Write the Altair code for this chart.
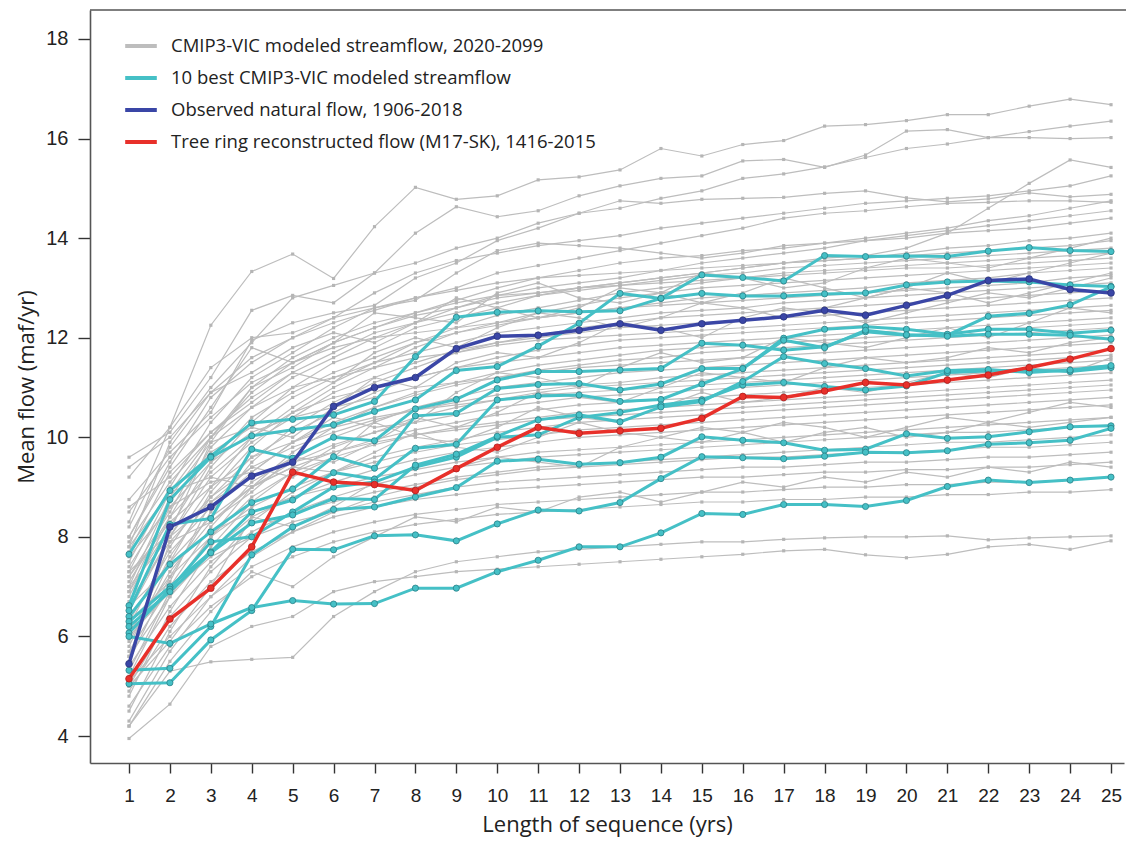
import altair as alt
import pandas as pd

# ---------------- data ----------------
SEQ_LENGTH = list(range(1, 26))

OBSERVED = [5.45, 8.2, 8.6, 9.22, 9.5, 10.62, 11.0, 11.2, 11.78, 12.03, 12.05, 12.15, 12.28,
            12.15, 12.28, 12.35, 12.42, 12.55, 12.45, 12.65, 12.85, 13.15, 13.18, 12.97, 12.9]

TREE_RING = [5.15, 6.35, 6.97, 7.8, 9.3, 9.1, 9.05, 8.93, 9.37, 9.8, 10.2, 10.08, 10.13,
             10.18, 10.38, 10.82, 10.8, 10.93, 11.1, 11.05, 11.15, 11.25, 11.4, 11.57, 11.78]

BEST_MODELS = [
    [7.65, 8.93, 9.62, 10.29, 10.36, 10.45, 10.72, 11.62, 12.41, 12.51, 12.54, 12.52, 12.54,
     12.79, 13.26, 13.21, 13.14, 13.65, 13.63, 13.64, 13.63, 13.74, 13.81, 13.75, 13.73],
    [6.62, 8.75, 9.60, 10.03, 10.15, 10.25, 10.52, 10.75, 11.34, 11.42, 11.83, 12.29, 12.89,
     12.79, 12.89, 12.84, 12.84, 12.88, 12.90, 13.06, 13.12, 13.14, 13.12, 13.06, 13.03],
    [6.52, 8.25, 8.37, 9.76, 9.58, 10.0, 9.93, 10.57, 10.76, 11.15, 11.32, 11.32, 11.35,
     11.38, 11.89, 11.85, 11.75, 11.82, 12.12, 12.05, 12.05, 12.43, 12.49, 12.66, 13.02],
    [6.40, 7.45, 8.1, 8.69, 8.96, 9.61, 9.38, 10.43, 10.48, 10.98, 11.06, 11.08, 10.95,
     11.07, 11.38, 11.38, 11.99, 12.17, 12.22, 12.17, 12.07, 12.17, 12.17, 12.09, 12.15],
    [6.30, 7.0, 7.70, 8.50, 8.74, 9.29, 9.16, 9.78, 9.86, 10.75, 10.83, 10.85, 10.72,
     10.76, 11.07, 11.38, 11.95, 11.80, 12.15, 12.06, 12.03, 12.07, 12.07, 12.05, 11.97],
    [6.07, 6.95, 7.9, 8.0, 8.5, 9.0, 9.1, 9.4, 9.6, 10.0, 10.05, 10.4, 10.5,
     10.65, 10.75, 11.05, 11.10, 11.02, 10.95, 11.03, 11.30, 11.33, 11.35, 11.32, 11.40],
    [6.20, 6.9, 7.68, 8.28, 8.44, 8.77, 8.75, 9.44, 9.66, 10.02, 10.35, 10.45, 10.31,
     10.61, 10.72, 11.12, 11.62, 11.48, 11.38, 11.23, 11.34, 11.36, 11.30, 11.35, 11.44],
    [5.32, 5.36, 6.20, 7.64, 8.20, 8.55, 8.6, 8.8, 8.99, 9.52, 9.56, 9.46, 9.49,
     9.60, 10.01, 9.94, 9.89, 9.74, 9.76, 10.07, 9.98, 10.01, 10.11, 10.21, 10.23],
    [5.05, 5.07, 5.93, 6.52, 7.75, 7.74, 8.02, 8.04, 7.92, 8.26, 8.54, 8.52, 8.69,
     9.17, 9.61, 9.59, 9.57, 9.62, 9.70, 9.69, 9.73, 9.86, 9.89, 9.94, 10.18],
    [6.0, 5.86, 6.25, 6.58, 6.72, 6.65, 6.66, 6.97, 6.97, 7.30, 7.53, 7.80, 7.80,
     8.08, 8.47, 8.45, 8.65, 8.65, 8.61, 8.73, 9.01, 9.14, 9.09, 9.14, 9.20],
]

CMIP3_MODELS = [
    [8.3, 10.2, 12.25, 13.33, 13.68, 13.19, 14.23, 15.02, 14.78, 14.85, 15.17, 15.23, 15.37, 15.8, 15.65, 15.88, 15.96, 16.25, 16.28, 16.36, 16.48, 16.48, 16.65, 16.79, 16.68],
    [9.6, 10.1, 11.2, 12.55, 12.85, 12.7, 13.3, 14.1, 14.63, 14.43, 14.55, 14.85, 15.05, 15.2, 15.25, 15.55, 15.58, 15.42, 15.67, 16.15, 16.18, 16.02, 16.02, 16.0, 16.02],
    [8.75, 9.7, 10.5, 11.95, 12.3, 12.5, 12.65, 13.2, 13.5, 13.95, 14.2, 14.5, 14.6, 14.8, 14.95, 15.2, 15.29, 15.43, 15.62, 15.80, 15.89, 16.02, 16.14, 16.25, 16.35],
    [7.2, 8.5, 10.0, 11.0, 11.6, 12.0, 12.3, 12.5, 12.7, 12.85, 12.9, 13.0, 13.1, 13.2, 13.3, 13.4, 13.5, 13.6, 13.65, 13.8, 14.1, 14.6, 15.1, 15.57, 15.42],
    [8.0, 9.5, 10.8, 11.5, 12.0, 12.4, 12.9, 13.3, 13.55, 13.7, 13.85, 13.95, 14.05, 14.2, 14.3, 14.4, 14.5, 14.6, 14.7, 14.75, 14.8, 14.85, 14.95, 15.05, 15.25],
    [7.8, 9.9, 11.0, 11.9, 12.8, 13.05, 13.3, 13.5, 13.8, 14.0, 14.3, 14.5, 14.75, 14.7, 14.78, 14.8, 14.82, 14.90, 14.95, 14.81, 14.73, 14.79, 14.91, 14.83, 14.88],
    [7.5, 9.0, 10.3, 11.2, 11.7, 12.2, 12.6, 12.8, 13.0, 13.3, 13.45, 13.6, 13.75, 13.9, 14.05, 14.2, 14.40, 14.50, 14.55, 14.63, 14.7, 14.72, 14.75, 14.75, 14.72],
    [9.2, 10.2, 11.4, 12.0, 12.1, 12.4, 12.6, 12.75, 13.3, 13.75, 13.9, 13.85, 13.8, 13.7, 13.6, 13.7, 13.85, 13.9, 14.0, 14.1, 14.2, 14.35, 14.45, 14.6, 14.75],
    [6.8, 8.4, 9.8, 10.6, 11.2, 11.6, 12.0, 12.3, 12.6, 12.85, 13.0, 13.1, 13.2, 13.35, 13.5, 13.6, 13.7, 13.8, 13.95, 14.05, 14.15, 14.25, 14.35, 14.45, 14.55],
    [7.0, 8.8, 9.9, 11.0, 11.4, 11.9, 12.2, 12.5, 12.75, 13.0, 13.2, 13.35, 13.5, 13.6, 13.65, 13.75, 13.8, 13.9, 13.95, 14.0, 14.1, 14.15, 14.2, 14.3, 14.4],
    [6.5, 8.0, 9.4, 10.3, 11.0, 11.5, 11.8, 12.2, 12.4, 12.6, 12.85, 13.0, 13.1, 13.2, 13.3, 13.4, 13.5, 13.55, 13.6, 13.7, 13.8, 13.85, 13.95, 14.0, 14.1],
    [8.2, 9.8, 10.9, 11.6, 12.0, 12.3, 12.55, 12.8, 12.95, 13.1, 13.2, 13.25, 13.3, 13.35, 13.4, 13.45, 13.5, 13.55, 13.6, 13.65, 13.7, 13.75, 13.8, 13.85, 13.95],
    [7.7, 9.3, 10.1, 10.8, 11.3, 11.7, 12.1, 12.3, 12.5, 12.7, 12.85, 12.95, 13.05, 13.15, 13.25, 13.3, 13.4, 13.45, 13.5, 13.55, 13.6, 13.65, 13.7, 13.75, 13.8],
    [6.2, 7.8, 9.0, 10.0, 10.6, 11.1, 11.5, 11.9, 12.2, 12.45, 12.6, 12.75, 12.9, 13.0, 13.1, 13.2, 13.3, 13.35, 13.4, 13.45, 13.5, 13.55, 13.6, 13.65, 13.7],
    [7.3, 8.9, 10.0, 10.9, 11.5, 11.9, 12.2, 12.45, 12.6, 12.8, 12.9, 13.0, 13.05, 13.1, 13.15, 13.2, 13.25, 13.3, 13.35, 13.4, 13.4, 13.45, 13.5, 13.55, 13.6],
    [5.8, 7.5, 8.9, 9.8, 10.5, 11.0, 11.4, 11.8, 12.1, 12.3, 12.5, 12.65, 12.8, 12.9, 13.0, 13.05, 13.1, 13.15, 13.2, 13.25, 13.3, 13.35, 13.4, 13.45, 13.5],
    [8.5, 9.6, 10.4, 11.1, 11.5, 11.8, 12.0, 12.1, 12.2, 12.3, 12.4, 12.5, 12.6, 12.7, 12.8, 12.85, 12.9, 12.95, 13.0, 13.1, 13.15, 13.2, 13.3, 13.35, 13.4],
    [6.9, 8.2, 9.5, 10.4, 10.9, 11.3, 11.6, 11.9, 12.1, 12.25, 12.4, 12.5, 12.6, 12.65, 12.7, 12.75, 12.8, 12.85, 12.9, 12.95, 13.0, 13.05, 13.1, 13.2, 13.25],
    [7.4, 8.7, 9.7, 10.2, 10.8, 11.2, 11.5, 11.7, 11.9, 12.1, 12.2, 12.3, 12.4, 12.5, 12.55, 12.6, 12.7, 12.75, 12.8, 12.85, 12.9, 12.95, 13.0, 13.05, 13.1],
    [5.5, 7.2, 8.5, 9.5, 10.2, 10.7, 11.1, 11.4, 11.7, 11.9, 12.05, 12.2, 12.3, 12.4, 12.45, 12.5, 12.55, 12.6, 12.65, 12.7, 12.75, 12.8, 12.85, 12.9, 12.95],
    [6.6, 8.0, 9.2, 9.9, 10.4, 10.9, 11.2, 11.5, 11.75, 11.9, 12.0, 12.1, 12.2, 12.25, 12.3, 12.35, 12.4, 12.45, 12.5, 12.55, 12.6, 12.65, 12.7, 12.75, 12.8],
    [7.9, 9.1, 10.0, 10.6, 11.0, 11.2, 11.4, 11.6, 11.7, 11.85, 11.95, 12.0, 12.05, 12.1, 12.15, 12.2, 12.25, 12.3, 12.35, 12.4, 12.45, 12.5, 12.55, 12.6, 12.65],
    [6.0, 7.6, 8.8, 9.6, 10.1, 10.5, 10.9, 11.2, 11.4, 11.6, 11.75, 11.85, 11.95, 12.0, 12.05, 12.1, 12.15, 12.2, 12.25, 12.3, 12.35, 12.4, 12.45, 12.5, 12.55],
    [7.1, 8.4, 9.3, 10.0, 10.5, 10.8, 11.0, 11.2, 11.4, 11.5, 11.6, 11.7, 11.8, 11.85, 11.9, 11.95, 12.0, 12.05, 12.1, 12.15, 12.2, 12.25, 12.3, 12.35, 12.4],
    [5.2, 6.8, 8.0, 9.0, 9.7, 10.2, 10.6, 10.9, 11.1, 11.3, 11.45, 11.55, 11.65, 11.75, 11.8, 11.85, 11.9, 11.95, 12.0, 12.05, 12.1, 12.15, 12.2, 12.25, 12.3],
    [6.3, 7.7, 8.6, 9.3, 9.9, 10.3, 10.6, 10.85, 11.05, 11.2, 11.35, 11.45, 11.55, 11.6, 11.7, 11.75, 11.8, 11.85, 11.9, 11.95, 12.0, 12.05, 12.1, 12.15, 12.2],
    [7.6, 8.6, 9.5, 10.1, 10.4, 10.6, 10.8, 11.0, 11.1, 11.2, 11.3, 11.4, 11.45, 11.5, 11.55, 11.6, 11.65, 11.7, 11.75, 11.8, 11.85, 11.9, 11.95, 12.0, 12.05],
    [5.7, 7.0, 8.2, 9.1, 9.6, 10.0, 10.3, 10.6, 10.8, 11.0, 11.1, 11.2, 11.3, 11.35, 11.4, 11.45, 11.5, 11.55, 11.6, 11.65, 11.7, 11.75, 11.8, 11.85, 11.9],
    [6.7, 7.9, 8.8, 9.4, 9.8, 10.1, 10.35, 10.55, 10.7, 10.85, 10.95, 11.05, 11.1, 11.2, 11.25, 11.3, 11.35, 11.4, 11.45, 11.5, 11.55, 11.6, 11.65, 11.7, 11.75],
    [4.8, 6.5, 7.8, 8.7, 9.3, 9.8, 10.1, 10.4, 10.6, 10.75, 10.9, 11.0, 11.05, 11.1, 11.15, 11.2, 11.25, 11.3, 11.35, 11.4, 11.45, 11.5, 11.55, 11.6, 11.65],
    [7.2, 8.3, 9.0, 9.6, 9.9, 10.2, 10.4, 10.55, 10.65, 10.75, 10.85, 10.9, 10.95, 11.0, 11.05, 11.1, 11.15, 11.2, 11.25, 11.3, 11.35, 11.4, 11.45, 11.5, 11.55],
    [5.9, 7.3, 8.3, 9.0, 9.5, 9.85, 10.1, 10.3, 10.45, 10.6, 10.7, 10.8, 10.85, 10.9, 10.95, 11.0, 11.05, 11.1, 11.15, 11.2, 11.25, 11.3, 11.35, 11.4, 11.45],
    [6.4, 7.5, 8.4, 9.0, 9.4, 9.7, 9.95, 10.15, 10.3, 10.45, 10.55, 10.65, 10.7, 10.75, 10.8, 10.85, 10.9, 10.95, 11.0, 11.05, 11.1, 11.15, 11.2, 11.25, 11.3],
    [5.3, 6.9, 8.0, 8.8, 9.3, 9.6, 9.85, 10.05, 10.2, 10.3, 10.4, 10.5, 10.55, 10.6, 10.65, 10.7, 10.75, 10.8, 10.85, 10.9, 10.95, 11.0, 11.05, 11.1, 11.15],
    [7.0, 8.0, 8.7, 9.2, 9.5, 9.7, 9.9, 10.05, 10.15, 10.25, 10.35, 10.4, 10.45, 10.5, 10.55, 10.6, 10.65, 10.7, 10.75, 10.8, 10.85, 10.9, 10.95, 11.0, 11.05],
    [4.5, 6.1, 7.4, 8.3, 8.9, 9.3, 9.6, 9.8, 9.95, 10.1, 10.2, 10.3, 10.35, 10.4, 10.45, 10.5, 10.55, 10.6, 10.65, 10.7, 10.75, 10.8, 10.85, 10.9, 10.95],
    [6.1, 7.2, 8.0, 8.6, 9.0, 9.3, 9.5, 9.7, 9.85, 9.95, 10.05, 10.15, 10.2, 10.25, 10.3, 10.35, 10.4, 10.45, 10.5, 10.55, 10.6, 10.65, 10.7, 10.75, 10.8],
    [5.6, 6.8, 7.7, 8.4, 8.8, 9.1, 9.35, 9.55, 9.7, 9.8, 9.9, 10.0, 10.05, 10.1, 10.15, 10.2, 10.25, 10.3, 10.35, 10.4, 10.45, 10.5, 10.55, 10.6, 10.65],
    [6.6, 7.4, 8.1, 8.5, 8.8, 9.0, 9.2, 9.35, 9.5, 9.6, 9.7, 9.75, 9.8, 9.85, 9.9, 9.95, 10.0, 10.05, 10.1, 10.15, 10.2, 10.25, 10.3, 10.35, 10.4],
    [5.0, 6.4, 7.3, 8.0, 8.5, 8.8, 9.05, 9.25, 9.4, 9.5, 9.6, 9.65, 9.7, 9.75, 9.8, 9.85, 9.9, 9.95, 10.0, 10.05, 10.1, 10.1, 10.15, 10.2, 10.25],
    [5.4, 6.6, 7.5, 8.1, 8.5, 8.7, 8.9, 9.05, 9.2, 9.3, 9.4, 9.45, 9.5, 9.55, 9.6, 9.65, 9.7, 9.75, 9.8, 9.85, 9.9, 9.9, 9.95, 10.0, 10.05],
    [4.3, 5.7, 6.8, 7.6, 8.1, 8.5, 8.8, 9.0, 9.15, 9.25, 9.35, 9.4, 9.45, 9.5, 9.55, 9.6, 9.6, 9.65, 9.7, 9.7, 9.75, 9.8, 9.8, 9.85, 9.9],
    [6.0, 6.9, 7.6, 8.0, 8.3, 8.5, 8.7, 8.85, 9.0, 9.1, 9.15, 9.2, 9.25, 9.3, 9.35, 9.4, 9.4, 9.45, 9.5, 9.5, 9.55, 9.6, 9.6, 9.65, 9.7],
    [4.9, 6.2, 7.1, 7.7, 8.1, 8.4, 8.6, 8.75, 8.85, 8.95, 9.0, 9.05, 9.1, 9.15, 9.2, 9.2, 9.25, 9.3, 9.3, 9.35, 9.35, 9.4, 9.4, 9.45, 9.5],
    [5.1, 6.0, 6.8, 7.4, 7.8, 8.1, 8.3, 8.45, 8.55, 8.65, 8.7, 8.75, 8.8, 8.85, 8.9, 8.9, 8.95, 9.0, 9.0, 9.05, 9.05, 9.1, 9.1, 9.15, 9.2],
    [4.6, 5.8, 6.6, 7.2, 7.6, 7.9, 8.1, 8.25, 8.35, 8.45, 8.5, 8.55, 8.6, 8.65, 8.7, 8.7, 8.75, 8.75, 8.8, 8.8, 8.85, 8.85, 8.9, 8.9, 8.95],
    [3.95, 4.64, 5.8, 6.2, 6.4, 6.9, 7.1, 7.2, 7.3, 7.35, 7.4, 7.45, 7.5, 7.55, 7.6, 7.65, 7.72, 7.75, 7.64, 7.58, 7.65, 7.8, 7.85, 7.75, 7.92],
    [4.2, 5.3, 5.49, 5.54, 5.58, 6.4, 6.9, 7.3, 7.5, 7.6, 7.7, 7.75, 7.8, 7.85, 7.9, 7.9, 7.95, 7.98, 8.0, 8.0, 8.02, 7.94, 7.98, 8.0, 8.02],
    [8.0, 9.4, 10.6, 11.8, 11.5, 11.9, 12.5, 12.4, 12.3, 12.9, 13.1, 12.8, 12.7, 12.9, 13.3, 13.2, 13.0, 13.1, 13.4, 13.6, 13.5, 13.4, 13.6, 13.8, 14.0],
    [7.3, 8.1, 9.9, 10.2, 10.0, 10.6, 11.2, 11.0, 11.5, 11.7, 11.6, 11.9, 12.3, 12.2, 12.0, 12.4, 12.6, 12.5, 12.3, 12.5, 12.7, 12.9, 12.8, 13.0, 13.2],
    [6.9, 8.6, 9.1, 9.3, 9.9, 10.4, 10.2, 10.3, 10.9, 11.3, 11.2, 11.0, 11.4, 11.7, 11.5, 11.6, 12.0, 11.9, 11.8, 12.0, 12.2, 12.0, 12.3, 12.6, 12.5],
    [5.6, 7.9, 8.3, 8.9, 9.6, 9.5, 9.9, 10.4, 10.2, 10.5, 10.9, 10.8, 10.7, 11.0, 11.3, 11.2, 11.1, 11.4, 11.6, 11.5, 11.6, 11.8, 11.7, 11.9, 12.0],
    [6.3, 7.1, 8.7, 9.4, 9.2, 9.6, 10.3, 10.0, 9.9, 10.2, 10.6, 10.4, 10.3, 10.6, 10.9, 10.7, 10.8, 11.0, 10.9, 11.1, 11.3, 11.2, 11.4, 11.3, 11.6],
    [5.0, 5.9, 7.0, 8.4, 8.2, 8.6, 9.1, 8.9, 9.4, 9.6, 9.5, 9.4, 9.8, 10.0, 9.9, 10.1, 10.3, 10.2, 10.0, 10.2, 10.4, 10.3, 10.5, 10.7, 10.6],
    [7.8, 8.9, 9.2, 9.0, 9.4, 9.3, 9.7, 10.1, 9.8, 9.7, 10.0, 10.3, 10.1, 10.0, 10.2, 10.1, 9.9, 10.1, 10.2, 10.0, 10.1, 10.3, 10.2, 10.3, 10.4],
    [4.2, 5.5, 6.5, 7.3, 7.0, 7.6, 8.0, 8.4, 8.3, 8.6, 8.5, 8.8, 8.9, 8.7, 8.9, 9.1, 9.0, 9.2, 9.1, 9.3, 9.2, 9.4, 9.3, 9.5, 9.4],
    [9.4, 10.0, 10.9, 11.3, 11.8, 12.1, 11.9, 12.3, 12.8, 12.6, 12.4, 12.6, 13.0, 12.9, 12.7, 12.9, 13.2, 13.0, 12.8, 13.0, 13.3, 13.1, 13.3, 13.5, 13.7],
    [8.6, 9.2, 10.1, 10.7, 11.3, 11.1, 11.7, 12.0, 11.8, 12.2, 12.5, 12.4, 12.2, 12.4, 12.7, 12.6, 12.4, 12.6, 12.8, 13.0, 12.9, 12.7, 12.9, 13.1, 13.3],
]

GROUPS = ["CMIP3-VIC modeled streamflow, 2020-2099",
          "10 best CMIP3-VIC modeled streamflow",
          "Observed natural flow, 1906-2018",
          "Tree ring reconstructed flow (M17-SK), 1416-2015"]
COLORS = ["#bdbdbd", "#45c0c6", "#3a46a6", "#e8302a"]
Y_TICKS = [4, 6, 8, 10, 12, 14, 16, 18]


def long_frame(series_list, group, prefix):
    rows = []
    for i, values in enumerate(series_list):
        for x, v in zip(SEQ_LENGTH, values):
            rows.append({"x": x, "y": v, "id": f"{prefix}{i}", "group": group})
    return pd.DataFrame(rows)


gray_df = long_frame(CMIP3_MODELS, GROUPS[0], "g")
best_df = long_frame(BEST_MODELS, GROUPS[1], "b")
obs_df = long_frame([OBSERVED], GROUPS[2], "o")
tree_df = long_frame([TREE_RING], GROUPS[3], "t")

W, H = 1034, 753
x_scale = alt.Scale(domain=[0.047, 25.317], nice=False, zero=False)
y_scale = alt.Scale(domain=[3.458, 18.582], nice=False, zero=False)

X = alt.X("x:Q", scale=x_scale,
          axis=alt.Axis(values=SEQ_LENGTH, title="Length of sequence (yrs)", format="d",
                        labelFlush=False, tickSize=10, labelPadding=13, labelFontSize=19,
                        titlePadding=9))
Y = alt.Y("y:Q", scale=y_scale,
          axis=alt.Axis(values=Y_TICKS, title="Mean flow (maf/yr)", format="d",
                        tickSize=12, labelPadding=10, labelFontSize=20, titlePadding=7))

color = alt.Color("group:N",
                  scale=alt.Scale(domain=GROUPS, range=COLORS),
                  legend=alt.Legend(title=None, orient="none", legendX=33, legendY=18,
                                    symbolType="stroke", symbolSize=1000,
                                    symbolStrokeWidth=4, labelFont="Open Sans",
                                    labelFontSize=18.5, labelColor="#222222",
                                    labelOffset=12, rowPadding=4, labelLimit=700))


def lines(df, width):
    return alt.Chart(df).mark_line(strokeWidth=width).encode(
        x=X, y=Y, detail="id:N", color=color)


def points(df, size, fill, stroke, sw, shape="circle"):
    return alt.Chart(df).mark_point(filled=True, shape=shape, size=size, fill=fill,
                                    stroke=stroke, strokeWidth=sw, opacity=1).encode(x=X, y=Y)


top_border = alt.Chart(pd.DataFrame({"k": [0]})).mark_rule(
    color="#555555", strokeWidth=1.6).encode(
    x=alt.value(0), x2=alt.value(W + 2), y=alt.value(0))

chart = alt.layer(
    lines(gray_df, 1.2),
    points(gray_df, 10, "#b5b5b5", "#b5b5b5", 0, shape="square"),
    lines(best_df, 3),
    points(best_df, 38, "#45c0c6", "#2a8088", 0.8),
    lines(obs_df, 3.5),
    points(obs_df, 45, "#3a46a6", "#2a347e", 0.8),
    lines(tree_df, 3.5),
    points(tree_df, 45, "#e8302a", "#b02020", 0.8),
    top_border,
).properties(
    width=W, height=H,
    autosize=alt.AutoSizeParams(type="none"),
    padding={"left": 82, "top": 2, "right": 2, "bottom": 75}
).configure_view(
    stroke=None
).configure_axis(
    grid=False, domainColor="#555555", domainWidth=1.6, tickColor="#333333",
    tickWidth=1.4, labelFont="Liberation Sans",
    labelColor="#222222", titleFont="Open Sans", titleFontSize=22,
    titleFontWeight="normal", titleColor="#222222"
)

chart.save("out.html", embed_options={"renderer": "svg", "actions": False})
